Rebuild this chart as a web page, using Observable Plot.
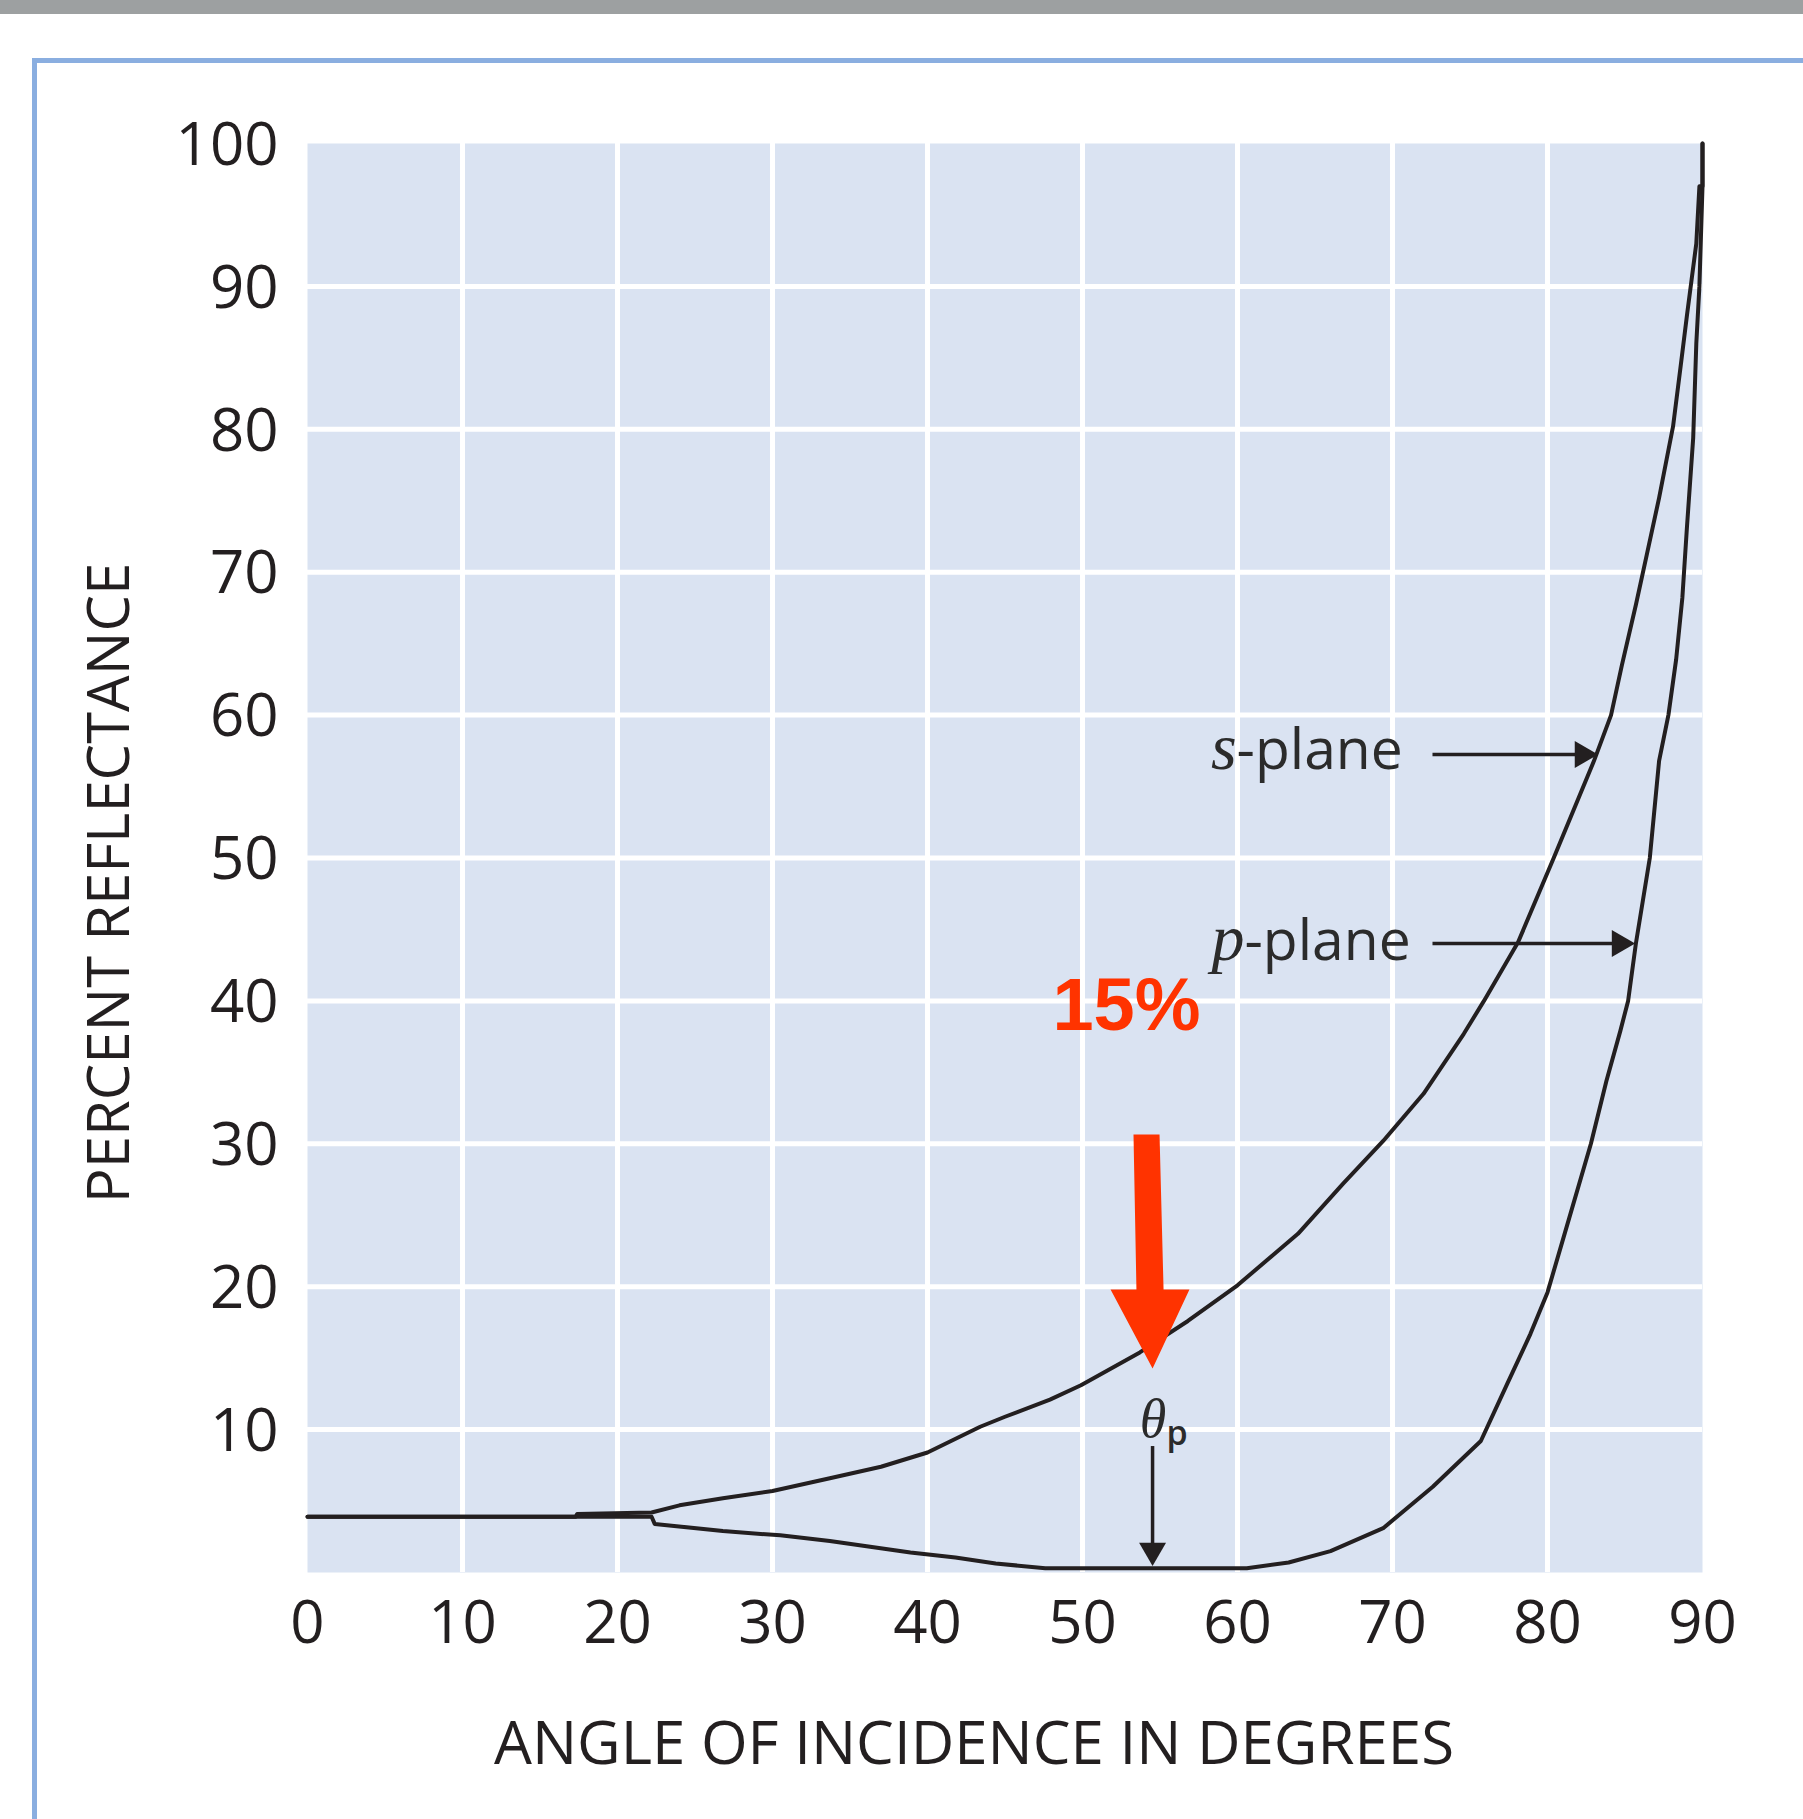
<!DOCTYPE html>
<html>
<head>
<meta charset="utf-8">
<script src="https://cdn.jsdelivr.net/npm/d3@7"></script>
<script src="https://cdn.jsdelivr.net/npm/@observablehq/plot@0.6"></script>
<style>
  html, body { margin: 0; padding: 0; overflow: hidden; background: #ffffff; }
  #wrap { position: relative; width: 1803px; height: 1819px; }
  #topbar { position: absolute; left: 0; top: 0; width: 1803px; height: 14px; background: #9da0a1; z-index: 2; }
  #frame { position: absolute; left: 32px; top: 58px; width: 1900px; height: 1900px; border-left: 5px solid #8aaee0; border-top: 5px solid #8aaee0; z-index: 2; pointer-events: none; }
  #chart svg { display: block; }
</style>
</head>
<body>
<div id="wrap">
  <div id="topbar"></div>
  <div id="frame"></div>
  <div id="chart"></div>
</div>
<script>
// ---- data ----
const xTicks = [0, 10, 20, 30, 40, 50, 60, 70, 80, 90];
const yTicks = [10, 20, 30, 40, 50, 60, 70, 80, 90, 100];
const xGrid = [10, 20, 30, 40, 50, 60, 70, 80];
const yGrid = [10, 20, 30, 40, 50, 60, 70, 80, 90];

const sAngle = [0, 17.3, 17.4, 22.2, 24, 26.8, 30, 33.7, 37, 40, 43.4, 45, 47.9, 49.9, 53.7, 56.8, 60, 63.9, 66.8, 69.4, 72.0, 74.6, 75.9, 78.1, 80.4, 83.0, 84.1, 84.8, 85.7, 86.4, 87.2, 88.1, 88.6, 89.0, 89.3, 89.6, 89.8, 90, 90];
const sRefl  = [3.9, 3.9, 4.1, 4.2, 4.7, 5.2, 5.7, 6.6, 7.4, 8.4, 10.2, 10.9, 12.1, 13.1, 15.4, 17.6, 20.1, 23.7, 27.2, 30.2, 33.5, 37.7, 40.0, 44.1, 50.0, 56.8, 60.0, 63.5, 67.7, 71.2, 75.2, 80.2, 84.5, 88.0, 90.5, 93, 97, 97, 100];

const pAngle = [0, 22.2, 22.4, 26.8, 30.5, 33.7, 36.3, 38.9, 41.8, 44.4, 47.6, 60.6, 63.3, 66, 69.4, 72.6, 75.7, 77.4, 78.9, 80, 81.4, 82.8, 83.8, 84.7, 85.2, 85.7, 86.6, 87.2, 87.8, 88.3, 88.7, 89.0, 89.4, 89.6, 89.8, 90, 90];
const pRefl  = [3.9, 3.9, 3.4, 2.9, 2.6, 2.2, 1.8, 1.4, 1.05, 0.63, 0.3, 0.3, 0.7, 1.5, 3.1, 6.0, 9.2, 13.2, 16.7, 19.6, 24.8, 30, 34.4, 37.9, 40, 44, 50, 56.8, 60, 63.9, 68.2, 73.2, 79.4, 86, 90, 97, 100];

// annotations (in data units: degrees, percent)
const redArrowAngle = [53.29, 54.97, 55.23, 56.90, 54.52, 51.81, 53.48];
const redArrowRefl  = [30.65, 30.65, 19.80, 19.80, 14.28, 19.80, 19.80];
const brewsterAngle = 54.52;

const sPlane = sAngle.map((a, i) => ({angle: a, r: sRefl[i]}));
const pPlane = pAngle.map((a, i) => ({angle: a, r: pRefl[i]}));
const redArrow = redArrowAngle.map((a, i) => ({angle: a, r: redArrowRefl[i]}));

const ink = "#231f20";
const sans = "'Open Sans', 'DejaVu Sans', sans-serif";
const serif = "'Liberation Serif', 'DejaVu Serif', serif";

const chart = Plot.plot({
  width: 1803,
  height: 1819,
  marginLeft: 307,
  marginRight: 101,
  marginTop: 143,
  marginBottom: 247,
  x: {domain: [0, 90], axis: null},
  y: {domain: [0, 100], axis: null},
  style: {background: "transparent", fontFamily: sans, color: ink},
  marks: [
    Plot.frame({fill: "#dae3f2", stroke: "none"}),
    Plot.ruleX(xGrid, {stroke: "white", strokeWidth: 5}),
    Plot.ruleY(yGrid, {stroke: "white", strokeWidth: 5}),
    // tick labels
    Plot.text(xTicks, {x: d => d, text: d => String(d), frameAnchor: "bottom", textAnchor: "middle", lineAnchor: "top", dy: 28, fontSize: 60, fill: ink, fontFamily: sans}),
    Plot.text(yTicks, {y: d => d, text: d => String(d), frameAnchor: "left", textAnchor: "end", lineAnchor: "middle", dx: -29, dy: 2, fontSize: 60, fill: ink, fontFamily: sans}),
    // axis titles
    Plot.text(["ANGLE OF INCIDENCE IN DEGREES"], {text: d => d, frameAnchor: "bottom", textAnchor: "middle", lineAnchor: "middle", dx: -31, dy: 172, fontSize: 60, fill: ink, fontFamily: sans}),
    Plot.text(["PERCENT REFLECTANCE"], {text: d => d, frameAnchor: "left", textAnchor: "middle", rotate: -90, lineAnchor: "middle", dx: -197, dy: 25, fontSize: 58, fill: ink, fontFamily: sans}),
    // curves
    Plot.line(pPlane, {x: "angle", y: "r", stroke: ink, strokeWidth: 4}),
    Plot.line(sPlane, {x: "angle", y: "r", stroke: ink, strokeWidth: 4}),
    // s-plane / p-plane labels with arrows
    Plot.text([{a: 59.94, r: 56.26}], {x: "a", y: "r", text: () => "s", textAnchor: "end", lineAnchor: "bottom", fontFamily: serif, fontStyle: "italic", fontSize: 66, fill: "#2b2b2b"}),
    Plot.text([{a: 59.94, r: 56.26}], {x: "a", y: "r", text: () => "-plane", textAnchor: "start", lineAnchor: "bottom", fontFamily: sans, fontSize: 57, fill: "#2b2b2b"}),
    Plot.text([{a: 60.45, r: 42.83}], {x: "a", y: "r", text: () => "p", textAnchor: "end", lineAnchor: "bottom", fontFamily: serif, fontStyle: "italic", fontSize: 66, fill: "#2b2b2b"}),
    Plot.text([{a: 60.45, r: 42.83}], {x: "a", y: "r", text: () => "-plane", textAnchor: "start", lineAnchor: "bottom", fontFamily: sans, fontSize: 57, fill: "#2b2b2b"}),
    Plot.link([{a1: 72.58, a2: 82.4, r: 57.24}], {x1: "a1", x2: "a2", y1: "r", y2: "r", stroke: ink, strokeWidth: 3.5}),
    Plot.dot([{a: 82.26, r: 57.24}], {x: "a", y: "r", symbol: "triangle", rotate: 90, r: 10, fill: ink, stroke: "none"}),
    Plot.link([{a1: 72.58, a2: 84.8, r: 44.02}], {x1: "a1", x2: "a2", y1: "r", y2: "r", stroke: ink, strokeWidth: 3.5}),
    Plot.dot([{a: 84.65, r: 44.02}], {x: "a", y: "r", symbol: "triangle", rotate: 90, r: 10, fill: ink, stroke: "none"}),
    // Brewster angle marker
    Plot.text([{a: 53.7, r: 9.45}], {x: "a", y: "r", text: () => "θ", textAnchor: "start", lineAnchor: "bottom", fontFamily: serif, fontStyle: "italic", fontSize: 54, fill: "#2b2b2b"}),
    Plot.text([{a: 55.42, r: 8.89}], {x: "a", y: "r", text: () => "p", textAnchor: "start", lineAnchor: "bottom", fontFamily: sans, fontWeight: 600, fontSize: 34, fill: "#2b2b2b"}),
    Plot.link([{a: brewsterAngle, r1: 8.85, r2: 1.6}], {x1: "a", x2: "a", y1: "r1", y2: "r2", stroke: ink, strokeWidth: 3.5}),
    Plot.dot([{a: brewsterAngle, r: 1.54}], {x: "a", y: "r", symbol: "triangle", rotate: 180, r: 10, fill: ink, stroke: "none"}),
    // red highlight
    Plot.line(redArrow, {x: "angle", y: "r", fill: "#ff3300", stroke: "none"}),
    Plot.text([{a: 48.06, r: 37.93}], {x: "a", y: "r", text: () => "15%", textAnchor: "start", lineAnchor: "bottom", fontFamily: "'Liberation Sans', Arial, sans-serif", fontWeight: "bold", fontSize: 74, fill: "#ff3300"})
  ]
});
document.getElementById("chart").appendChild(chart);
</script>
</body>
</html>
